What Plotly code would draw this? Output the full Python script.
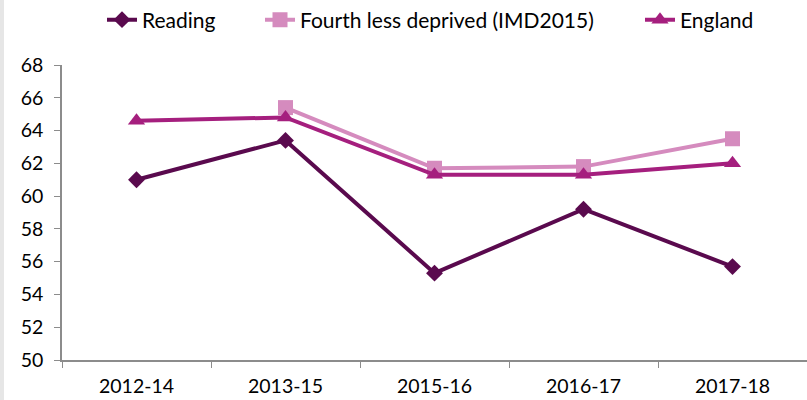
import plotly.graph_objects as go

categories = ["2012-14", "2013-15", "2015-16", "2016-17", "2017-18"]
reading = [61.0, 63.4, 55.3, 59.2, 55.7]
fourth_less_deprived = [None, 65.4, 61.7, 61.8, 63.5]
england = [64.6, 64.8, 61.3, 61.3, 62.0]
y_ticks = [50, 52, 54, 56, 58, 60, 62, 64, 66, 68]

PW = 745.0  # plot width in px
def px(x):
    return (x - 62) / PW

fig = go.Figure()
fig.add_trace(go.Scatter(
    x=categories, y=reading, name="Reading", mode="lines+markers",
    line=dict(color="#5A0A4E", width=4),
    marker=dict(symbol="diamond", size=13, color="#5A0A4E"),
    legend="legend",
))
fig.add_trace(go.Scatter(
    x=categories, y=fourth_less_deprived, name="Fourth less deprived (IMD2015)", mode="lines+markers",
    line=dict(color="#D58BBE", width=4),
    marker=dict(symbol="square", size=15, color="#D58BBE"),
    legend="legend2",
))
fig.add_trace(go.Scatter(
    x=categories, y=england, name="England", mode="lines+markers",
    line=dict(color="#A51F7E", width=4),
    marker=dict(symbol="triangle-up", size=15, color="#A51F7E"),
    legend="legend3",
))

leg_common = dict(orientation="h", xanchor="left", y=1 + 45 / 295, yanchor="middle",
                  font=dict(size=21), bgcolor="rgba(0,0,0,0)")

fig.update_layout(
    width=807, height=400,
    margin=dict(l=62, r=0, t=65, b=40, autoexpand=False),
    paper_bgcolor="white", plot_bgcolor="white",
    font=dict(family="Lato, Open Sans, sans-serif", size=19, color="#000000"),
    showlegend=True,
    legend=dict(x=px(102), **leg_common),
    legend2=dict(x=px(260), **leg_common),
    legend3=dict(x=px(640), **leg_common),
    xaxis=dict(
        type="category", range=[-0.5, 4.5], showgrid=False,
        showline=True, linecolor="#8C8C8C", linewidth=1.5,
        ticks="outside", tickson="boundaries", ticklen=6, tickcolor="#8C8C8C",
        tickfont=dict(size=19.5), ticklabelstandoff=8,
    ),
    yaxis=dict(
        range=[50, 68], tickvals=y_ticks, showgrid=False, zeroline=False,
        showline=True, linecolor="#8C8C8C", linewidth=1.5,
        ticks="outside", ticklen=6, tickcolor="#8C8C8C",
        tickfont=dict(size=19.5), ticklabelstandoff=7,
    ),
    shapes=[dict(type="rect", xref="paper", yref="paper", x0=px(0), x1=px(4),
                 y0=-40/295, y1=1 + 65/295, fillcolor="#E6E6E6", line=dict(width=0),
                 layer="above")],
)

fig.write_html("out.html", config={"displayModeBar": False},
               post_script="document.body.style.margin='0px';")
